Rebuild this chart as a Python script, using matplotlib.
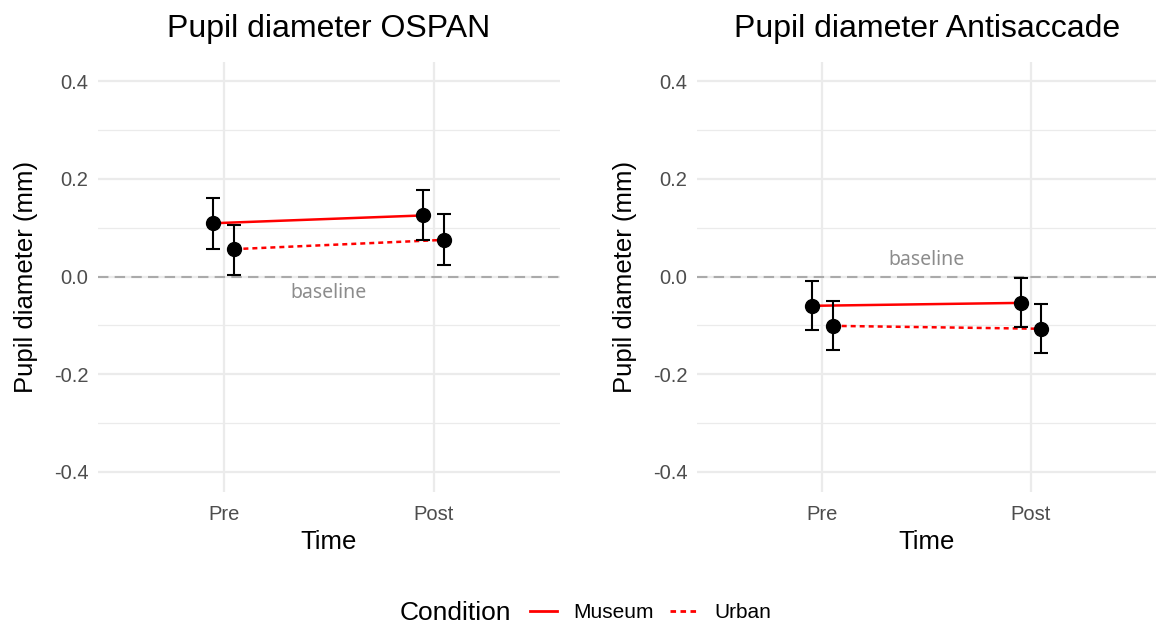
import numpy as np
import matplotlib
matplotlib.use("Agg")
import matplotlib.pyplot as plt
from matplotlib.lines import Line2D
from matplotlib.offsetbox import HPacker

# data
times = ["Pre", "Post"]
conditions = ["Museum", "Urban"]
titles = ["Pupil diameter OSPAN", "Pupil diameter Antisaccade"]

ospan_mean = {"Museum": [0.109, 0.125], "Urban": [0.056, 0.075]}
ospan_lo = {"Museum": [0.057, 0.074], "Urban": [0.003, 0.023]}
ospan_hi = {"Museum": [0.160, 0.177], "Urban": [0.106, 0.128]}

anti_mean = {"Museum": [-0.060, -0.054], "Urban": [-0.101, -0.107]}
anti_lo = {"Museum": [-0.110, -0.104], "Urban": [-0.151, -0.157]}
anti_hi = {"Museum": [-0.010, -0.004], "Urban": [-0.051, -0.057]}

baseline_pos = [-0.034, 0.033]

plt.rcParams['font.family'] = ['Liberation Sans', 'DejaVu Sans']

fig = plt.figure(figsize=(11.57, 6.25), dpi=100)
axes = [fig.add_axes([0.0847, 0.2136, 0.399, 0.688]),
        fig.add_axes([0.6024, 0.2136, 0.397, 0.688])]

dodge = {"Museum": -0.05, "Urban": 0.05}
styles = {"Museum": "-", "Urban": (0, (2, 1.6))}
panels = [(ospan_mean, ospan_lo, ospan_hi), (anti_mean, anti_lo, anti_hi)]

for k, ax in enumerate(axes):
    mean, lo, hi = panels[k]
    x = np.arange(1, len(times) + 1)
    ax.set_xlim(0.4, 2.6)
    ax.set_ylim(-0.44, 0.44)
    ax.set_yticks([-0.4, -0.2, 0.0, 0.2, 0.4])
    ax.set_yticklabels(["-0.4", "-0.2", "0.0", "0.2", "0.4"])
    ax.set_yticks([-0.3, -0.1, 0.1, 0.3], minor=True)
    ax.set_xticks(x)
    ax.set_xticklabels(times)
    ax.grid(True, which="major", color="#ebebeb", linewidth=1.6, zorder=0)
    ax.grid(True, which="minor", axis="y", color="#ebebeb", linewidth=0.9, zorder=0)
    ax.set_axisbelow(True)
    for s in ax.spines.values():
        s.set_visible(False)
    ax.tick_params(which="both", length=0, labelsize=14.5, labelcolor="#4d4d4d", pad=7)
    ax.tick_params(axis="x", pad=10)

    ax.axhline(0, color="#aaaaaa", linestyle=(0, (5, 3)), linewidth=1.5, zorder=1)
    ax.text(1.5, baseline_pos[k], "baseline", color="#8c8c8c", fontsize=14,
            ha="center", va="center", family=["Noto Sans", "DejaVu Sans"])

    for c in conditions:
        xs = x + dodge[c]
        m = np.array(mean[c])
        ax.plot(xs, m, color="red", linestyle=styles[c], linewidth=1.8, zorder=2)
        ax.errorbar(xs, m, yerr=[m - np.array(lo[c]), np.array(hi[c]) - m],
                    fmt="none", ecolor="black", elinewidth=1.5, capsize=5,
                    capthick=1.5, zorder=3)
        ax.plot(xs, m, "o", color="black", markersize=10, zorder=4)

    ax.set_title(titles[k], fontsize=23, pad=18)
    ax.set_xlabel("Time", fontsize=18.5, labelpad=4)
    ax.set_ylabel("Pupil diameter (mm)", fontsize=18.5, labelpad=11)

handles = [Line2D([], [], color="red", linestyle=styles[c], linewidth=2) for c in conditions]
leg = fig.legend(handles, conditions, loc="center", bbox_to_anchor=(0.506, 0.02),
                 ncol=2, frameon=False, fontsize=15, handlelength=1.3,
                 columnspacing=0.78, handletextpad=0.8,
                 title="Condition", title_fontsize=19)
# put the title on the same row as the entries
title_box = leg._legend_title_box
entries = leg._legend_handle_box
leg._legend_box._children = [HPacker(pad=0, sep=13, children=[title_box, entries], align="center")]

fig.savefig("out.png", dpi=100)
